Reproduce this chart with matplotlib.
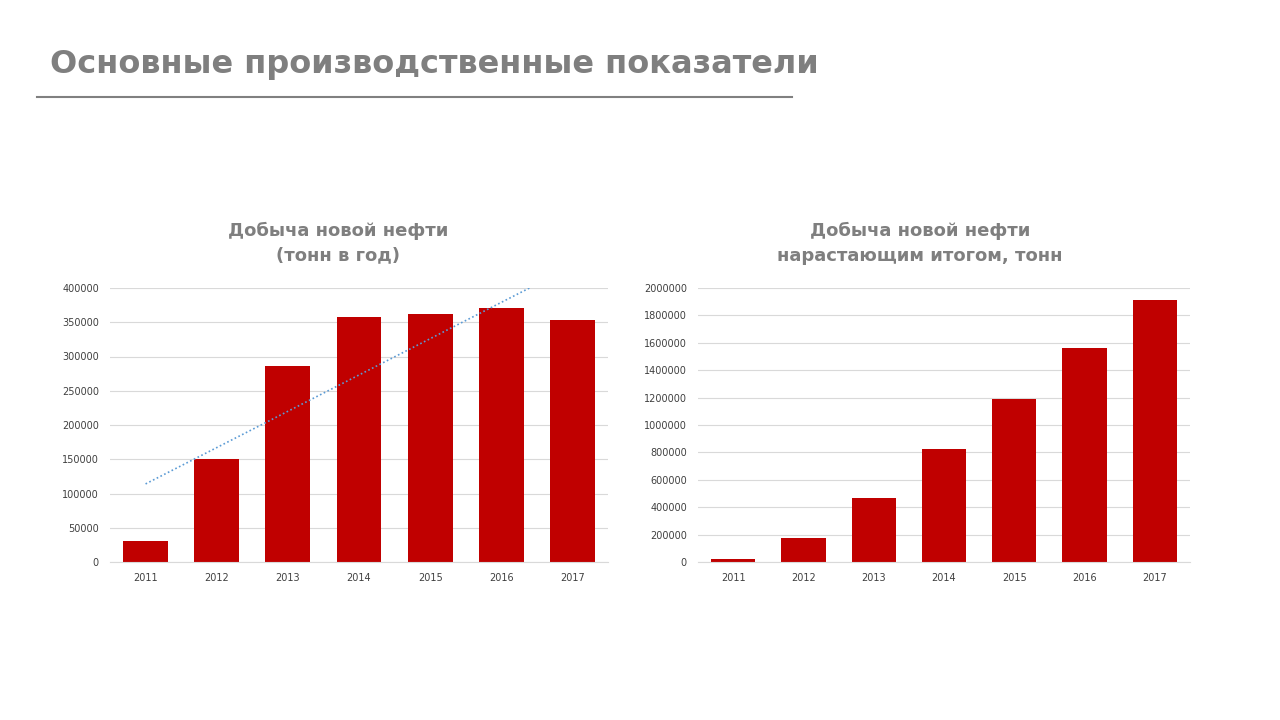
import matplotlib
matplotlib.use("Agg")
import matplotlib.pyplot as plt
import numpy as np

plt.rcParams["font.family"] = "DejaVu Sans"

years = ["2011", "2012", "2013", "2014", "2015", "2016", "2017"]
annual = [31000, 150000, 286000, 358000, 362000, 371000, 353000]
cumulative = [22000, 175000, 467000, 825000, 1190000, 1562000, 1912000]

title = "Основные производственные показатели"
left_title = "Добыча новой нефти\n(тонн в год)"
right_title = "Добыча новой нефти\nнарастающим итогом, тонн"

W, H = 1280, 720
fig = plt.figure(figsize=(12.8, 7.2), dpi=100)
fig.patch.set_facecolor("white")

fig.text(50 / W, 1 - 65 / H, title, fontsize=23, fontweight="bold",
         color="#7f7f7f", va="center", ha="left")
fig.add_artist(plt.Line2D([37 / W, 792 / W], [1 - 97 / H] * 2,
                          color="#808080", lw=1.5))


def style(ax, ymax, step):
    ax.set_ylim(0, ymax)
    ax.set_yticks(np.arange(0, ymax + 1, step))
    ax.yaxis.set_major_formatter(matplotlib.ticker.FuncFormatter(lambda v, p: f"{int(v)}"))
    ax.grid(axis="y", color="#d9d9d9", lw=0.8)
    ax.set_axisbelow(True)
    for s in ["top", "right", "left"]:
        ax.spines[s].set_visible(False)
    ax.spines["bottom"].set_color("#d9d9d9")
    ax.tick_params(length=0, labelsize=7, colors="#404040", pad=8)
    ax.set_facecolor("none")
    ax.set_xlim(-0.5, len(years) - 0.5)


x = np.arange(len(years))

ax1 = fig.add_axes([110 / W, 1 - 562 / H, 498 / W, 274 / H])
ax1.bar(x, annual, width=0.63, color="#c00000")
coef = np.polyfit(x, annual, 1)
xt = np.linspace(0, 5.4, 50)
ax1.plot(xt, np.polyval(coef, xt), color="#5b9bd5", lw=1.2, ls=(0, (1, 1.5)))
ax1.set_xticks(x, years)
style(ax1, 400000, 50000)
fig.text(338 / W, 1 - 243 / H, left_title, fontsize=13, fontweight="bold",
         color="#7f7f7f", ha="center", va="center", linespacing=1.5)

ax2 = fig.add_axes([698 / W, 1 - 562 / H, 492 / W, 274 / H])
ax2.bar(x, cumulative, width=0.63, color="#c00000")
ax2.set_xticks(x, years)
style(ax2, 2000000, 200000)
fig.text(920 / W, 1 - 243 / H, right_title, fontsize=13, fontweight="bold",
         color="#7f7f7f", ha="center", va="center", linespacing=1.5)

fig.savefig("out.png", dpi=100)
